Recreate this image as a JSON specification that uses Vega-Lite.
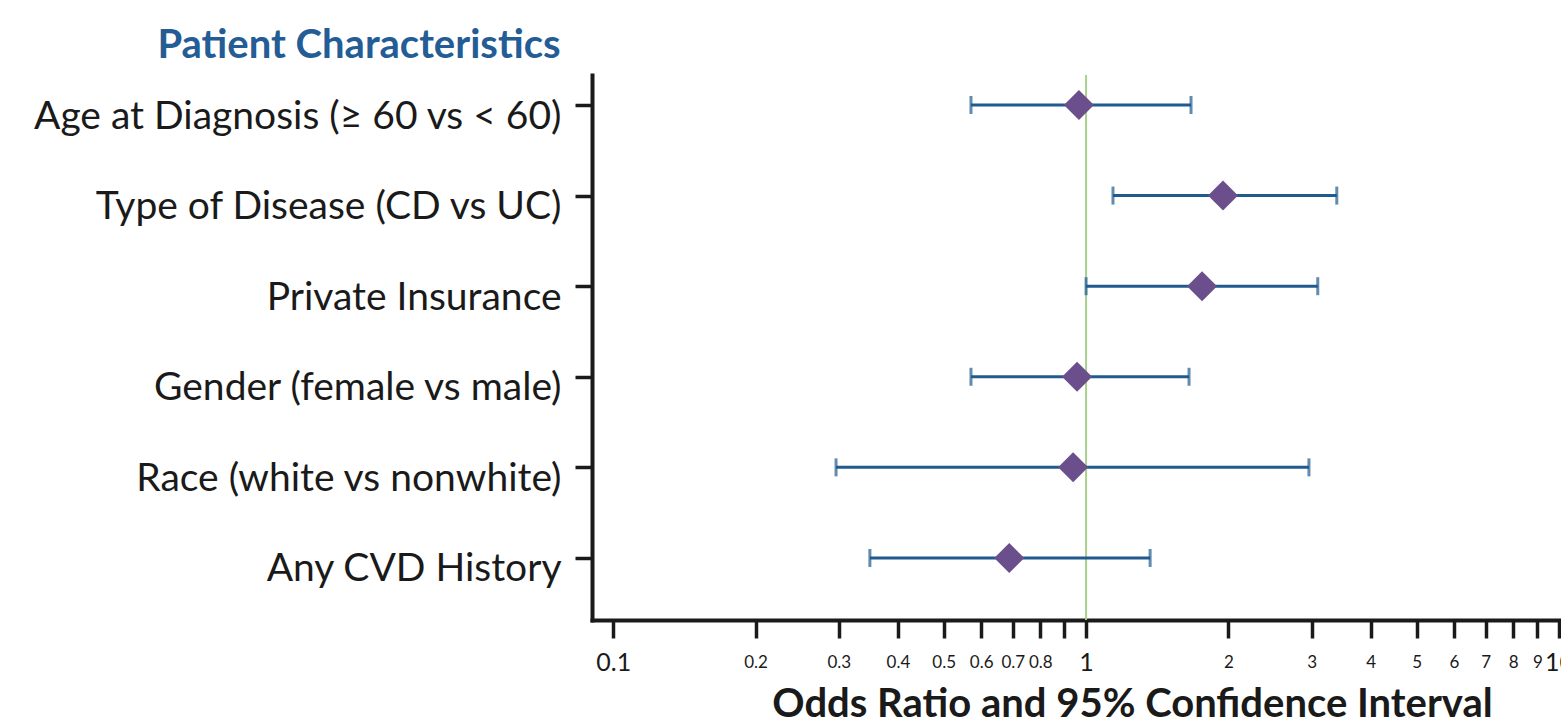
{
  "$schema": "https://vega.github.io/schema/vega-lite/v6.json",
  "width": 969,
  "height": 545,
  "autosize": {"type": "none"},
  "padding": {"left": 592, "top": 75, "right": 0, "bottom": 106},
  "background": "white",
  "config": {"view": {"stroke": null}, "font": "Lato"},
  "data": {"values": [
    {"characteristic": "Age at Diagnosis (≥ 60 vs < 60)", "or": 0.966, "lo": 0.571, "hi": 1.667},
    {"characteristic": "Type of Disease (CD vs UC)", "or": 1.948, "lo": 1.14, "hi": 3.39},
    {"characteristic": "Private Insurance", "or": 1.759, "lo": 1.0, "hi": 3.09},
    {"characteristic": "Gender (female vs male)", "or": 0.957, "lo": 0.571, "hi": 1.651},
    {"characteristic": "Race (white vs nonwhite)", "or": 0.939, "lo": 0.296, "hi": 2.96},
    {"characteristic": "Any CVD History", "or": 0.688, "lo": 0.349, "hi": 1.366}
  ]},
  "encoding": {
    "y": {
      "field": "characteristic", "type": "nominal", "sort": null,
      "scale": {"type": "point", "padding": 0.508, "align": 0.326},
      "axis": {
        "title": "Patient Characteristics",
        "titleAngle": 0, "titleAlign": "right", "titleBaseline": "alphabetic",
        "titleX": -32, "titleY": -18, "titleFont": "Lato", "titleFontSize": 40,
        "titleFontWeight": "bold", "titleColor": "#245c95",
        "domainColor": "#1a1a1a", "domainWidth": 4, "domainCap": "square",
        "tickColor": "#1a1a1a", "tickWidth": 3.5, "tickSize": 17,
        "labelFontSize": 39, "labelColor": "#1a1a1a", "labelPadding": 14,
        "labelBaseline": "alphabetic", "labelOffset": 23,
        "labelFont": "Lato", "labelLimit": 700
      }
    }
  },
  "layer": [
    {
      "mark": {"type": "rule", "color": "#a9d18e", "strokeWidth": 2},
      "data": {"values": [{"ref": 1}]},
      "encoding": {"x": {"field": "ref", "type": "quantitative"}, "y": null}
    },
    {
      "mark": {"type": "rule", "color": "#205a8f", "strokeWidth": 3},
      "encoding": {
        "x": {
          "field": "lo", "type": "quantitative",
          "scale": {"type": "log", "domain": [0.0902, 10.1], "nice": false, "clamp": false},
          "axis": {
            "title": "Odds Ratio and 95% Confidence Interval",
            "titleFont": "Lato", "titleFontSize": 40, "titleFontWeight": "bold",
            "titleColor": "#1a1a1a", "titleX": 540, "titleY": 96, "titleBaseline": "alphabetic",
            "values": [0.1, 0.2, 0.3, 0.4, 0.5, 0.6, 0.7, 0.8, 0.9, 1, 2, 3, 4, 5, 6, 7, 8, 9, 10],
            "labelExpr": "datum.value == 0.9 ? '' : format(datum.value, '~g')",
            "labelFontSize": {"condition": {"test": "datum.value == 0.1 || datum.value == 1 || datum.value == 10", "value": 25}, "value": 17},
            "labelBaseline": "middle", "labelPadding": 24, "labelFont": "Lato",
            "labelColor": "#1a1a1a", "labelOverlap": false, "labelFlush": false, "labelBound": false,
            "domainColor": "#1a1a1a", "domainWidth": 4, "domainCap": "square",
            "tickColor": "#1a1a1a", "tickWidth": 3.5, "tickSize": 18, "grid": false
          }
        },
        "x2": {"field": "hi"}
      }
    },
    {
      "mark": {"type": "tick", "color": "#205a8f", "thickness": 3, "size": 18, "orient": "vertical"},
      "encoding": {"x": {"field": "lo", "type": "quantitative"}}
    },
    {
      "mark": {"type": "tick", "color": "#205a8f", "thickness": 3, "size": 18, "orient": "vertical"},
      "encoding": {"x": {"field": "hi", "type": "quantitative"}}
    },
    {
      "mark": {"type": "point", "shape": "diamond", "filled": true, "color": "#6b4f8c", "size": 900, "opacity": 1},
      "encoding": {"x": {"field": "or", "type": "quantitative"}}
    }
  ]
}
